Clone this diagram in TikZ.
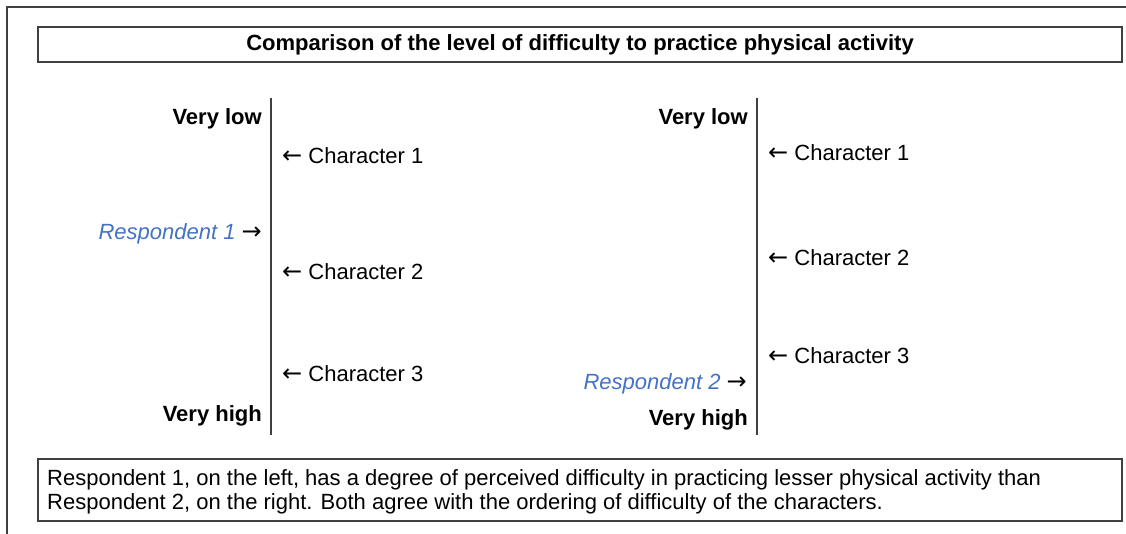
\documentclass[tikz,border=0pt]{standalone}
\usepackage{fontspec}
\setmainfont{Liberation Sans}
\newfontfamily\arrowfont{DejaVu Sans}
\definecolor{respblue}{HTML}{4472C4}
\definecolor{framegray}{HTML}{404040}
\newcommand{\larr}{{\arrowfont\fontsize{24}{24}\selectfont ←}}
\newcommand{\rarr}{{\arrowfont\fontsize{24}{24}\selectfont →}}
\begin{document}
\begin{tikzpicture}[x=1pt,y=-1pt,
  txt/.style={inner sep=0pt,font=\fontsize{22}{24}\selectfont},
  btxt/.style={txt,font=\fontsize{22}{24}\selectfont\bfseries},
  resp/.style={txt,text=respblue},
  axisline/.style={line width=1.4pt,draw=framegray},
  boxline/.style={line width=1.2pt,draw=framegray}]
\useasboundingbox (0,0) rectangle (1126,534);
% outer frame (partial)
\draw[line width=1.2pt,draw=framegray] (7,534) -- (7,7) -- (1126,7);
% title box
\node[boxline,minimum width=1084pt,minimum height=35pt,inner sep=0pt] (title) at (580,44.5)
  {\fontsize{22}{24}\selectfont\bfseries Comparison of the level of difficulty to practice physical activity};
% bottom box
\node[boxline,minimum width=1084pt,minimum height=62pt,inner sep=0pt] (note) at (580,490) {};
\node[txt,anchor=base west,align=left] (notetext) at (47,509)
  {Respondent 1, on the left, has a degree of perceived difficulty in practicing lesser physical activity than\\
   Respondent 2, on the right. Both agree with the ordering of difficulty of the characters.};
% left scale
\coordinate (Ltop) at (271,98);
\coordinate (Lbot) at (271,435);
\draw[axisline] (Ltop) -- (Lbot);
\node[btxt,anchor=base east] (Llow) at (262,125) {Very low};
\node[btxt,anchor=base east] (Lhigh) at (262,421) {Very high};
\node[resp,anchor=base east] (R1) at (262,240) {\textit{Respondent 1} \textcolor{black}{\rarr}};
\node[txt,anchor=base west] (L1) at (282,164) {\larr{} Character 1};
\node[txt,anchor=base west] (L2) at (282,280) {\larr{} Character 2};
\node[txt,anchor=base west] (L3) at (282,381) {\larr{} Character 3};
% right scale
\coordinate (Rtop) at (757,98);
\coordinate (Rbot) at (757,435);
\draw[axisline] (Rtop) -- (Rbot);
\node[btxt,anchor=base east] (Rlow) at (748,125) {Very low};
\node[btxt,anchor=base east] (Rhigh) at (748,425) {Very high};
\node[resp,anchor=base east] (R2) at (747,389) {\textit{Respondent 2} \textcolor{black}{\rarr}};
\node[txt,anchor=base west] (C1) at (768,161) {\larr{} Character 1};
\node[txt,anchor=base west] (C2) at (768,266) {\larr{} Character 2};
\node[txt,anchor=base west] (C3) at (768,363) {\larr{} Character 3};
\end{tikzpicture}
\end{document}
